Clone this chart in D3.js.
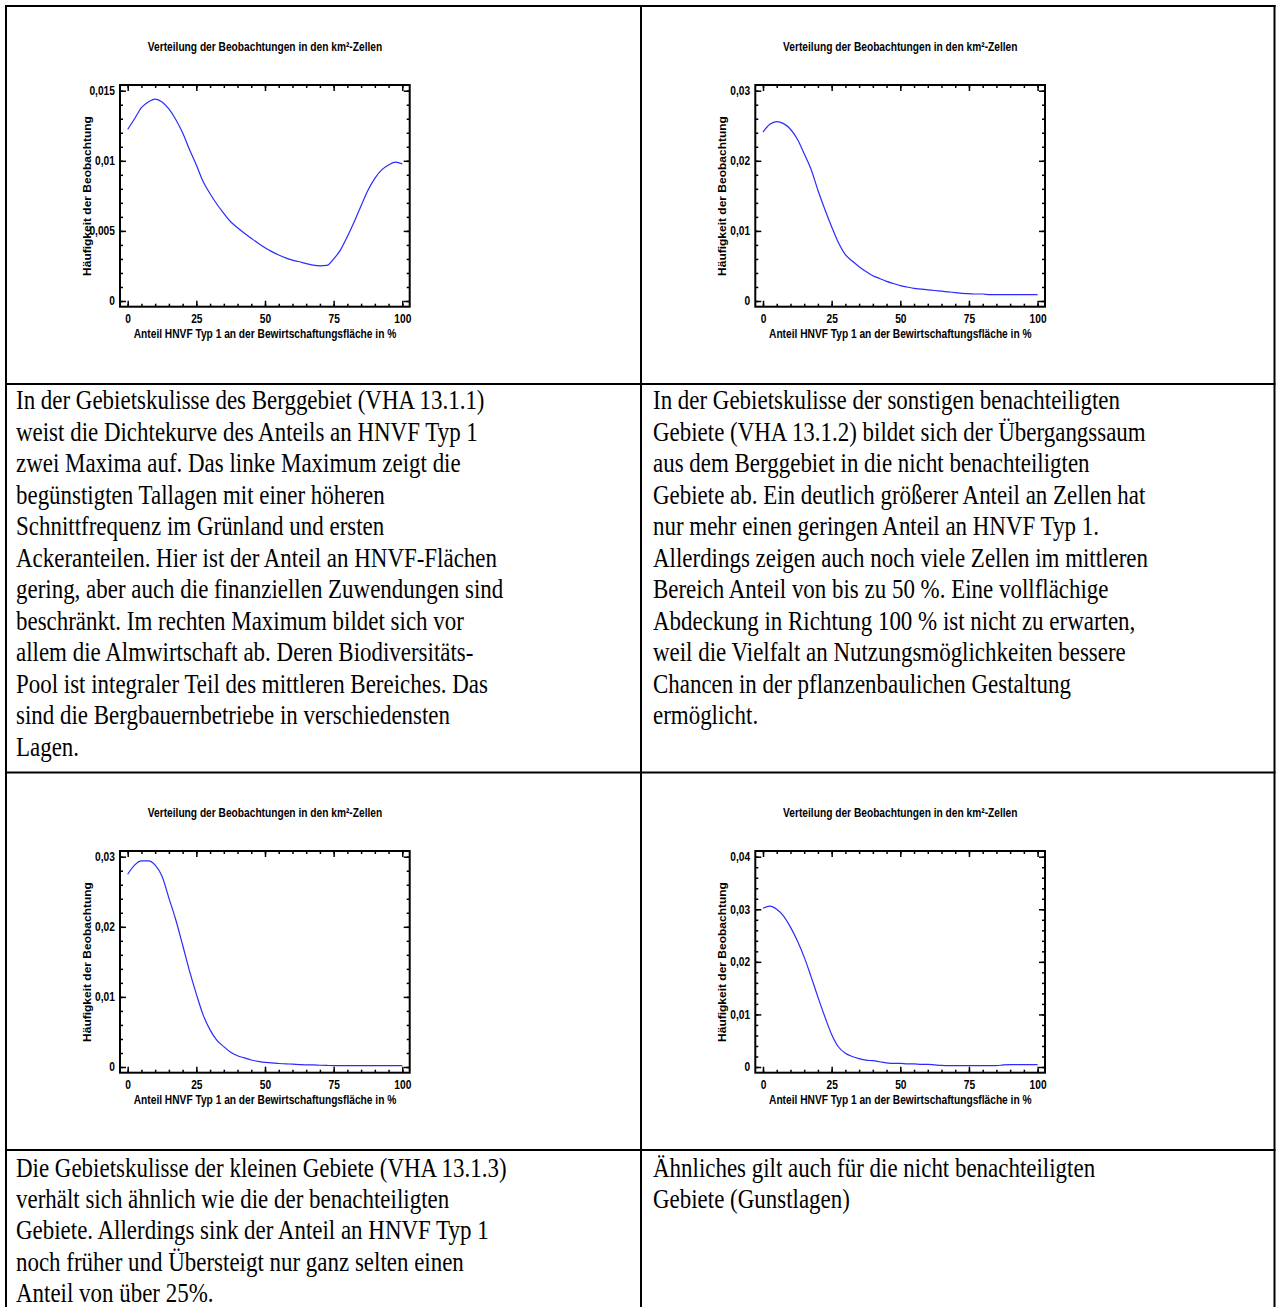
<!DOCTYPE html>
<html lang="de">

<head>
	<meta charset="utf-8">
	<title>Verteilung der Beobachtungen</title>
	<style>
		body { margin: 0; background: #ffffff; }
		svg { display: block; }
	</style>
</head>

<body>
	<script src="https://cdn.jsdelivr.net/npm/d3@7"></script>
	<script type="module">

		// x grid shared by all four density curves (Anteil in %)
		const anteil = [0, 2.5, 5, 7.5, 10, 12.5, 15, 17.5, 20, 22.5, 25, 27.5, 30, 32.5, 35, 37.5, 40,
			42.5, 45, 47.5, 50, 52.5, 55, 57.5, 60, 62.5, 65, 67.5, 70, 72.5, 75, 77.5, 80, 82.5, 85, 87.5,
			90, 92.5, 95, 97.5, 100];

		// Berggebiet (VHA 13.1.1)
		const berggebiet = [0.01224, 0.0130, 0.0138, 0.0142, 0.0144, 0.0142, 0.0137, 0.01295, 0.0120, 0.0108,
			0.0097, 0.0085, 0.00765, 0.0069, 0.00625, 0.00565, 0.00522, 0.00483, 0.00447, 0.00412, 0.0038,
			0.00352, 0.00328, 0.00308, 0.00292, 0.0028, 0.00267, 0.00256, 0.00251, 0.00254, 0.0030, 0.00365,
			0.0046, 0.00565, 0.0068, 0.0079, 0.00875, 0.00935, 0.0097, 0.0099, 0.00978];

		// sonstige benachteiligte Gebiete (VHA 13.1.2)
		const sonstigeGebiete = [0.0241, 0.0252, 0.0256, 0.0253, 0.0245, 0.0231, 0.0210, 0.0188, 0.0158, 0.0131,
			0.0106, 0.0083, 0.0066, 0.0057, 0.0049, 0.0042, 0.0036, 0.0032, 0.0028, 0.0025, 0.0022,
			0.0020, 0.0018, 0.0017, 0.0016, 0.0015, 0.0014, 0.0013, 0.0012, 0.0011, 0.00105, 0.001,
			0.001, 0.0009, 0.0009, 0.0009, 0.0009, 0.0009, 0.0009, 0.0009, 0.0009];

		// kleine Gebiete (VHA 13.1.3)
		const kleineGebiete = [0.0275, 0.0288, 0.0294, 0.0294, 0.0288, 0.0272, 0.0241, 0.0210, 0.0174, 0.0137,
			0.0104, 0.0074, 0.0053, 0.0038, 0.0029, 0.0021, 0.0016, 0.0013, 0.0010, 0.0008, 0.00065,
			0.0006, 0.0005, 0.00045, 0.0004, 0.00035, 0.0003, 0.0003, 0.00025, 0.00022, 0.0002, 0.0002,
			0.0002, 0.0002, 0.0002, 0.0002, 0.0002, 0.0002, 0.0002, 0.0002, 0.0002];

		// nicht benachteiligte Gebiete (Gunstlagen)
		const nichtBenachteiligt = [0.0302, 0.0306, 0.0300, 0.0287, 0.0266, 0.0240, 0.0209, 0.0172, 0.0133, 0.0096,
			0.0062, 0.0038, 0.0026, 0.0020, 0.0016, 0.0013, 0.0012, 0.0010, 0.0008, 0.0007, 0.0007,
			0.0006, 0.0006, 0.0005, 0.0005, 0.0004, 0.0003, 0.00025, 0.00025, 0.00025, 0.00025, 0.00025,
			0.00025, 0.00025, 0.00025, 0.0004, 0.00045, 0.00045, 0.00045, 0.00045, 0.00045];

		const xTicks = [0, 25, 50, 75, 100];
		const yTicksBerg = [0, 0.005, 0.01, 0.015];
		const yTicksSonstige = [0, 0.01, 0.02, 0.03];
		const yTicksKlein = [0, 0.01, 0.02, 0.03];
		const yTicksNicht = [0, 0.01, 0.02, 0.03, 0.04];

		const chartTitle = "Verteilung der Beobachtungen in den km²-Zellen";
		const xTitle = "Anteil HNVF Typ 1 an der Bewirtschaftungsfläche in %";
		const yTitle = "Häufigkeit der Beobachtung";

		const textBerg = [
			"In der Gebietskulisse des Berggebiet (VHA 13.1.1)",
			"weist die Dichtekurve des Anteils an HNVF Typ 1",
			"zwei Maxima auf. Das linke Maximum zeigt die",
			"begünstigten Tallagen mit einer höheren",
			"Schnittfrequenz im Grünland und ersten",
			"Ackeranteilen. Hier ist der Anteil an HNVF-Flächen",
			"gering, aber auch die finanziellen Zuwendungen sind",
			"beschränkt. Im rechten Maximum bildet sich vor",
			"allem die Almwirtschaft ab. Deren Biodiversitäts-",
			"Pool ist integraler Teil des mittleren Bereiches. Das",
			"sind die Bergbauernbetriebe in verschiedensten",
			"Lagen."
		];
		const textSonstige = [
			"In der Gebietskulisse der sonstigen benachteiligten",
			"Gebiete (VHA 13.1.2) bildet sich der Übergangssaum",
			"aus dem Berggebiet in die nicht benachteiligten",
			"Gebiete ab. Ein deutlich größerer Anteil an Zellen hat",
			"nur mehr einen geringen Anteil an HNVF Typ 1.",
			"Allerdings zeigen auch noch viele Zellen im mittleren",
			"Bereich Anteil von bis zu 50 %. Eine vollflächige",
			"Abdeckung in Richtung 100 % ist nicht zu erwarten,",
			"weil die Vielfalt an Nutzungsmöglichkeiten bessere",
			"Chancen in der pflanzenbaulichen Gestaltung",
			"ermöglicht."
		];
		const textKlein = [
			"Die Gebietskulisse der kleinen Gebiete (VHA 13.1.3)",
			"verhält sich ähnlich wie die der benachteiligten",
			"Gebiete. Allerdings sink der Anteil an HNVF Typ 1",
			"noch früher und Übersteigt nur ganz selten einen",
			"Anteil von über 25%."
		];
		const textNicht = [
			"Ähnliches gilt auch für die nicht benachteiligten",
			"Gebiete (Gunstlagen)"
		];

		const width = 1279, height = 1307;
		const squeeze = 0.85; // the source picture is narrowed horizontally
		const de = d3.formatLocale({ decimal: ",", thousands: ".", grouping: [3], currency: ["", " €"] });
		const fmt = de.format("~g");

		const svg = d3.select(document.body)
			.append("svg")
			.attr("width", width)
			.attr("height", height)
			.attr("viewBox", [0, 0, width, height]);

		svg.append("rect").attr("width", width).attr("height", height).attr("fill", "#ffffff");

		const colX = [0, 635.3];
		const rowY = [0, 766];

		const charts = [
			{ col: 0, row: 0, values: berggebiet, yTicks: yTicksBerg, minor: 0.001 },
			{ col: 1, row: 0, values: sonstigeGebiete, yTicks: yTicksSonstige, minor: 0.002 },
			{ col: 0, row: 1, values: kleineGebiete, yTicks: yTicksKlein, minor: 0.002 },
			{ col: 1, row: 1, values: nichtBenachteiligt, yTicks: yTicksNicht, minor: 0.002 }
		];

		charts.forEach(drawChart);

		function drawChart(c) {

			const g = svg.append("g")
				.attr("transform", `translate(${colX[c.col]},${rowY[c.row]})`)
				.attr("font-family", "'Liberation Sans', Arial, sans-serif")
				.attr("font-weight", "bold")
				.attr("font-size", 12);

			const frame = { left: 120, right: 409.7, top: 85, bottom: 306.7 };
			const yMax = c.yTicks[c.yTicks.length - 1];

			const x = d3.scaleLinear().domain([0, 100]).range([127.7, 402.3]);
			const y = d3.scaleLinear().domain([0, yMax]).range([301, 90.7]);

			const minorX = d3.range(0, 100.001, 5);
			const minorY = d3.range(0, yMax + 1e-9, c.minor);

			// minor ticks, all four sides, pointing inward
			const minorAxes = [
				[d3.axisBottom(x).tickValues(minorX), frame.bottom, "y"],
				[d3.axisTop(x).tickValues(minorX), frame.top, "y"],
				[d3.axisLeft(y).tickValues(minorY), frame.left, "x"],
				[d3.axisRight(y).tickValues(minorY), frame.right, "x"]
			];
			minorAxes.forEach(([axis, pos, dir]) => {
				g.append("g")
					.attr("transform", dir === "y" ? `translate(0,${pos})` : `translate(${pos},0)`)
					.call(axis.tickSize(-3).tickFormat(""))
					.call((s) => s.select(".domain").remove())
					.selectAll("line").attr("stroke", "#000").attr("stroke-width", 1.2);
			});

			// major ticks with labels on bottom and left
			const bottomAxis = g.append("g")
				.attr("transform", `translate(0,${frame.bottom})`)
				.call(d3.axisBottom(x).tickValues(xTicks).tickSize(-6).tickPadding(8).tickFormat(fmt));
			const leftAxis = g.append("g")
				.attr("transform", `translate(${frame.left},0)`)
				.call(d3.axisLeft(y).tickValues(c.yTicks).tickSize(-6).tickPadding(6).tickFormat(fmt));
			g.append("g")
				.attr("transform", `translate(0,${frame.top})`)
				.call(d3.axisTop(x).tickValues(xTicks).tickSize(-6).tickFormat(""));
			g.append("g")
				.attr("transform", `translate(${frame.right},0)`)
				.call(d3.axisRight(y).tickValues(c.yTicks).tickSize(-6).tickFormat(""));

			g.selectAll(".domain").remove();
			g.selectAll(".tick line").attr("stroke", "#000").attr("stroke-width", 1.5);
			[bottomAxis, leftAxis].forEach((a) => {
				a.selectAll("text")
					.attr("fill", "#000")
					.attr("font-size", 12)
					.attr("font-family", "'Liberation Sans', Arial, sans-serif")
					.attr("font-weight", "bold")
					.attr("transform", `scale(${squeeze},1)`);
			});

			g.append("rect")
				.attr("x", frame.left)
				.attr("y", frame.top)
				.attr("width", frame.right - frame.left)
				.attr("height", frame.bottom - frame.top)
				.attr("fill", "none")
				.attr("stroke", "#000")
				.attr("stroke-width", 2);

			const line = d3.line()
				.x((d, i) => x(anteil[i]))
				.y((d) => y(d))
				.curve(d3.curveMonotoneX);

			g.append("path")
				.datum(c.values)
				.attr("d", line)
				.attr("fill", "none")
				.attr("stroke", "#2b2bff")
				.attr("stroke-width", 1.2);

			g.append("text")
				.attr("transform", `translate(265,51) scale(${squeeze},1)`)
				.attr("text-anchor", "middle")
				.attr("font-size", 12)
				.text(chartTitle);

			g.append("text")
				.attr("transform", `translate(265,338) scale(${squeeze},1)`)
				.attr("text-anchor", "middle")
				.attr("font-size", 12)
				.text(xTitle);

			g.append("text")
				.attr("transform", `translate(91,196) scale(${squeeze},1) rotate(-90)`)
				.attr("text-anchor", "middle")
				.attr("font-size", 12)
				.text(yTitle);
		}

		// table grid
		const grid = svg.append("g").attr("stroke", "#000").attr("stroke-width", 2);
		[6, 641, 1274.5].forEach((gx) => {
			grid.append("line").attr("x1", gx).attr("x2", gx).attr("y1", 5).attr("y2", height);
		});
		[6, 384, 772.5, 1150].forEach((gy) => {
			grid.append("line").attr("x1", 5).attr("x2", 1275.5).attr("y1", gy).attr("y2", gy);
		});

		// text cells
		const cells = [
			{ lines: textBerg, x: 16, y: 409, step: 31.5 },
			{ lines: textSonstige, x: 653, y: 409, step: 31.5 },
			{ lines: textKlein, x: 16, y: 1177, step: 31.2 },
			{ lines: textNicht, x: 653, y: 1177, step: 31.2 }
		];
		cells.forEach((cell) => {
			svg.append("g")
				.attr("font-family", "'Liberation Serif', 'Times New Roman', serif")
				.attr("font-size", 27)
				.attr("fill", "#000")
				.selectAll("text")
				.data(cell.lines)
				.join("text")
				.attr("transform", (d, i) => `translate(${cell.x},${cell.y + i * cell.step}) scale(0.85,1)`)
				.text((d) => d);
		});

	</script>
</body>

</html>
